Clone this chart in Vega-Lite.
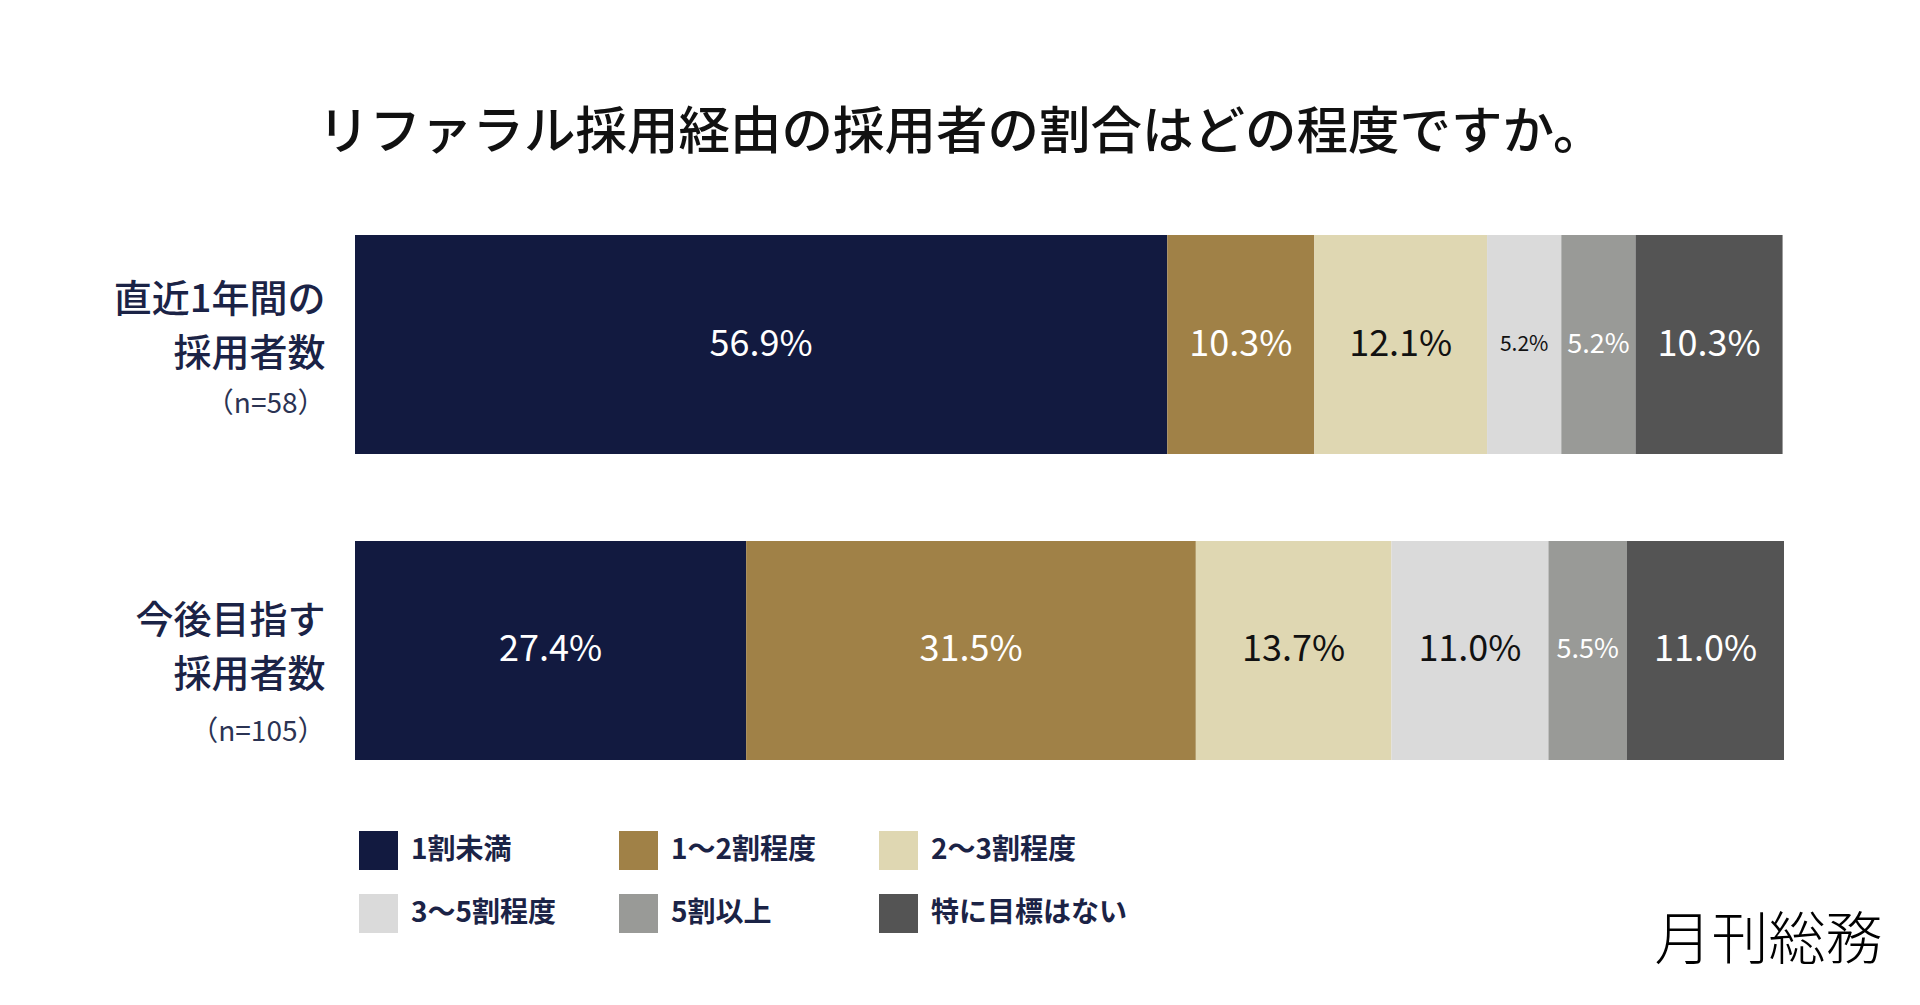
{
  "$schema": "https://vega.github.io/schema/vega-lite/v6.json",
  "width": 1429,
  "height": 525,
  "autosize": {"type": "none"},
  "padding": {"left": 355, "top": 235, "right": 136, "bottom": 245},
  "background": "white",
  "title": {
    "text": "リファラル採用経由の採用者の割合はどの程度ですか。",
    "anchor": "start",
    "frame": "group",
    "dx": -37,
    "offset": 76,
    "fontSize": 51.5,
    "fontWeight": 500,
    "color": "#111111",
    "font": "Noto Sans CJK JP"
  },
  "data": {
    "values": [
      {"cat": "直近1年間の採用者数", "group": "1割未満", "share": 0.569},
      {"cat": "直近1年間の採用者数", "group": "1～2割程度", "share": 0.103},
      {"cat": "直近1年間の採用者数", "group": "2～3割程度", "share": 0.121},
      {"cat": "直近1年間の採用者数", "group": "3～5割程度", "share": 0.052},
      {"cat": "直近1年間の採用者数", "group": "5割以上", "share": 0.052},
      {"cat": "直近1年間の採用者数", "group": "特に目標はない", "share": 0.103},
      {"cat": "今後目指す採用者数", "group": "1割未満", "share": 0.274},
      {"cat": "今後目指す採用者数", "group": "1～2割程度", "share": 0.315},
      {"cat": "今後目指す採用者数", "group": "2～3割程度", "share": 0.137},
      {"cat": "今後目指す採用者数", "group": "3～5割程度", "share": 0.110},
      {"cat": "今後目指す採用者数", "group": "5割以上", "share": 0.055},
      {"cat": "今後目指す採用者数", "group": "特に目標はない", "share": 0.110}
    ]
  },
  "layer": [
    {
      "mark": {"type": "bar"},
      "encoding": {
        "y": {
          "field": "cat",
          "type": "nominal",
          "sort": ["直近1年間の採用者数", "今後目指す採用者数"],
          "scale": {"paddingInner": 0.284, "paddingOuter": 0},
          "axis": {
            "title": null,
            "domain": false,
            "ticks": false,
            "labelExpr": "datum.value == '直近1年間の採用者数' ? ['直近1年間の', '採用者数'] : ['今後目指す', '採用者数']",
            "labelFontSize": 38,
            "labelFontWeight": 500,
            "labelColor": "#1b2346",
            "labelAlign": "right",
            "labelBaseline": "middle",
            "labelPadding": 30,
            "labelLineHeight": 54,
            "labelLimit": 400,
            "labelOffset": {"condition": {"test": "datum.value == '今後目指す採用者数'", "value": -28}, "value": -44}
          }
        },
        "x": {
          "field": "share",
          "type": "quantitative",
          "stack": "zero",
          "scale": {"domain": [0, 1.001], "nice": false},
          "axis": {
            "domain": false,
            "ticks": false,
            "labels": false,
            "grid": false,
            "title": "月刊総務",
            "titleFontSize": 57,
            "titleFontWeight": 300,
            "titleColor": "#000000",
            "titleAlign": "right",
            "titleBaseline": "alphabetic",
            "titleX": 1527,
            "titleY": 198
          }
        },
        "color": {
          "field": "group",
          "type": "nominal",
          "sort": ["1割未満", "1～2割程度", "2～3割程度", "3～5割程度", "5割以上", "特に目標はない"],
          "scale": {
            "domain": ["1割未満", "1～2割程度", "2～3割程度", "3～5割程度", "5割以上", "特に目標はない"],
            "range": ["#121a40", "#a08147", "#dfd7b2", "#dadada", "#999a97", "#545454"]
          },
          "legend": {
            "title": null,
            "orient": "none",
            "legendX": 4,
            "legendY": 596,
            "direction": "horizontal",
            "columns": 3,
            "symbolType": "square",
            "symbolSize": 1521,
            "symbolStrokeWidth": 0,
            "labelFontSize": 28,
            "labelFontWeight": "bold",
            "labelColor": "#1b2346",
            "labelOffset": 13,
            "labelLimit": 300,
            "columnPadding": 62,
            "rowPadding": 24
          }
        }
      }
    },
    {
      "mark": {"type": "text", "font": "Noto Sans CJK JP", "baseline": "middle", "align": "center"},
      "encoding": {
        "y": {
          "field": "cat",
          "type": "nominal",
          "sort": ["直近1年間の採用者数", "今後目指す採用者数"],
          "axis": {
            "title": null,
            "orient": "left",
            "domain": false,
            "ticks": false,
            "labelExpr": "datum.value == '直近1年間の採用者数' ? '（n=58）' : '（n=105）'",
            "labelFontSize": 28,
            "labelColor": "#2b3353",
            "labelAlign": "right",
            "labelBaseline": "middle",
            "labelPadding": 30,
            "labelOffset": {"condition": {"test": "datum.value == '今後目指す採用者数'", "value": 83}, "value": 60}
          }
        },
        "x": {
          "field": "share",
          "type": "quantitative",
          "stack": "zero",
          "bandPosition": 0.5,
          "axis": {
            "domain": false,
            "ticks": false,
            "labels": false,
            "grid": false,
            "title": "月刊総務",
            "titleFontSize": 57,
            "titleFontWeight": 300,
            "titleColor": "#000000",
            "titleAlign": "right",
            "titleBaseline": "alphabetic",
            "titleX": 1527,
            "titleY": 198
          }
        },
        "detail": {"field": "group", "type": "nominal"},
        "order": {"field": "group", "type": "ordinal"},
        "text": {"field": "share", "type": "quantitative", "format": ".1%"},
        "color": {
          "condition": {"test": "datum.group == '2～3割程度' || datum.group == '3～5割程度'", "value": "#111111"},
          "value": "#ffffff"
        },
        "size": {
          "condition": [
            {"test": "datum.share < 0.06 && datum.group == '3～5割程度'", "value": 21},
            {"test": "datum.share < 0.06", "value": 27}
          ],
          "value": 36
        }
      }
    }
  ],
  "resolve": {"axis": {"y": "independent"}},
  "config": {
    "view": {"stroke": null},
    "font": "Noto Sans CJK JP"
  }
}
